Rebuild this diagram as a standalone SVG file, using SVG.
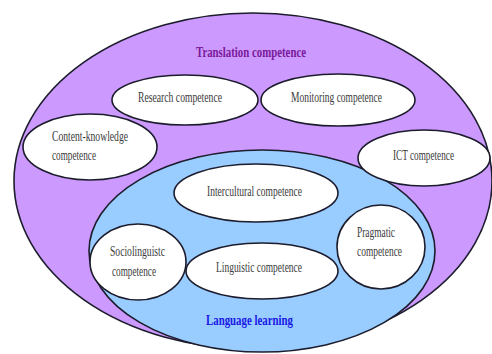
<svg xmlns="http://www.w3.org/2000/svg" width="492" height="354" viewBox="0 0 492 354">
  <style>
    .ring { stroke: #1c1c2c; stroke-width: 1.6; }
    .outer { fill: #cc99ff; }
    .inner { fill: #99ccff; }
    .node ellipse { fill: #ffffff; stroke: #1c1c2c; stroke-width: 1.6; }
    .lbl { font-family: "Liberation Serif", "Times New Roman", serif; font-size: 14px; fill: #3a3a3a; }
    .title { font-family: "Liberation Serif", "Times New Roman", serif; font-size: 15px; font-weight: bold; }
  </style>
  <rect width="492" height="354" fill="#ffffff"/>

  <!-- Translation competence domain -->
  <g id="translation">
    <ellipse class="ring outer" cx="253" cy="181" rx="239" ry="168"/>
    <text class="title" x="196" y="57" fill="#7a1a9a" textLength="110" lengthAdjust="spacingAndGlyphs">Translation competence</text>
  </g>

  <g id="research" class="node">
    <ellipse cx="185" cy="100" rx="73" ry="25"/>
    <text class="lbl" x="138" y="102" textLength="84" lengthAdjust="spacingAndGlyphs">Research competence</text>
  </g>

  <g id="monitoring" class="node">
    <ellipse cx="338" cy="100" rx="77" ry="26"/>
    <text class="lbl" x="291" y="102" textLength="91" lengthAdjust="spacingAndGlyphs">Monitoring competence</text>
  </g>

  <g id="content-knowledge" class="node">
    <ellipse cx="90" cy="147" rx="67" ry="33"/>
    <text class="lbl" x="52" y="141" textLength="76" lengthAdjust="spacingAndGlyphs">Content-knowledge</text>
    <text class="lbl" x="52" y="160" textLength="44" lengthAdjust="spacingAndGlyphs">competence</text>
  </g>

  <!-- Language learning domain -->
  <g id="language">
    <ellipse class="ring inner" cx="262" cy="251" rx="173" ry="101"/>
    <text class="title" x="206" y="325" fill="#1a1ae6" textLength="87" lengthAdjust="spacingAndGlyphs">Language learning</text>
  </g>

  <g id="ict" class="node">
    <ellipse cx="424" cy="158" rx="66" ry="28"/>
    <text class="lbl" x="393" y="160" textLength="61" lengthAdjust="spacingAndGlyphs">ICT competence</text>
  </g>

  <g id="intercultural" class="node">
    <ellipse cx="256" cy="193" rx="82" ry="29"/>
    <text class="lbl" x="207" y="196" textLength="95" lengthAdjust="spacingAndGlyphs">Intercultural competence</text>
  </g>

  <g id="sociolinguistic" class="node">
    <ellipse cx="138" cy="262" rx="48" ry="38"/>
    <text class="lbl" x="110" y="256" textLength="55" lengthAdjust="spacingAndGlyphs">Sociolinguistc</text>
    <text class="lbl" x="112" y="276" textLength="44" lengthAdjust="spacingAndGlyphs">competence</text>
  </g>

  <g id="linguistic" class="node">
    <ellipse cx="262" cy="271" rx="76" ry="28"/>
    <text class="lbl" x="216" y="272" textLength="86" lengthAdjust="spacingAndGlyphs">Linguistic competence</text>
  </g>

  <g id="pragmatic" class="node">
    <ellipse cx="381" cy="247" rx="44" ry="42"/>
    <text class="lbl" x="357" y="237" textLength="38" lengthAdjust="spacingAndGlyphs">Pragmatic</text>
    <text class="lbl" x="357" y="256" textLength="45" lengthAdjust="spacingAndGlyphs">competence</text>
  </g>

  <g id="connectors"/>
</svg>
